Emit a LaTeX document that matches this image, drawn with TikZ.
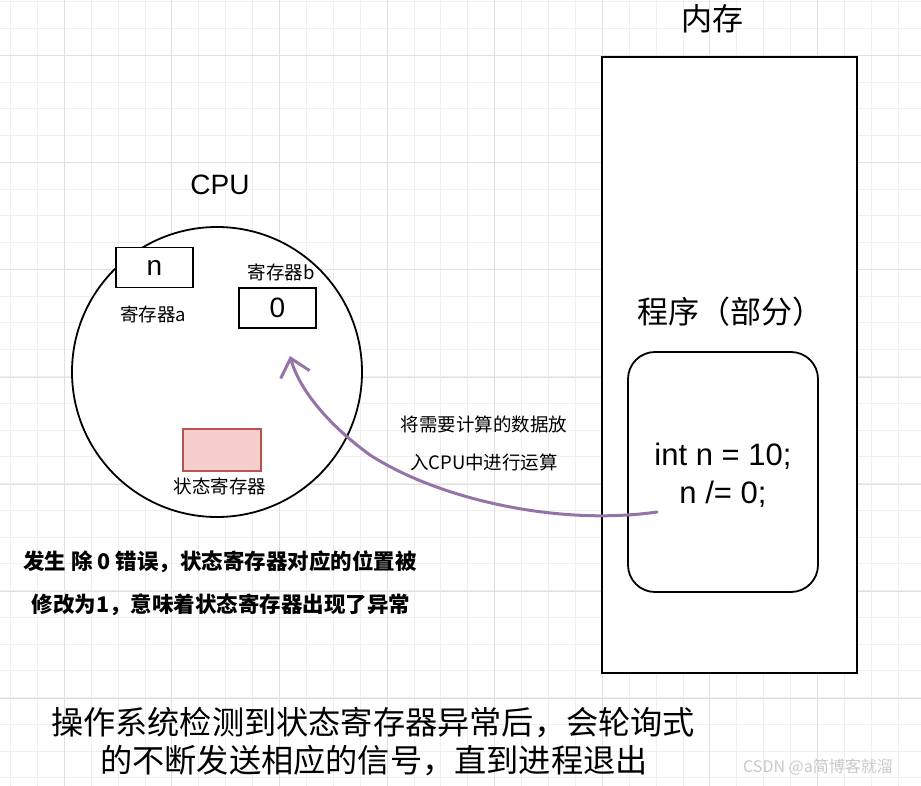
\documentclass[tikz,border=0pt]{standalone}
\usepackage{fontspec}
\setmainfont{Liberation Sans}
\newfontfamily\cjk{Noto Sans CJK SC}
\usetikzlibrary{arrows.meta}

\definecolor{gradefina}{HTML}{EFEFEF}
\definecolor{gradeforte}{HTML}{E0E0E0}
\definecolor{estadofundo}{HTML}{F8CECC}
\definecolor{estadoborda}{HTML}{B85450}
\definecolor{setaroxa}{HTML}{9673A6}
\definecolor{marcadagua}{HTML}{C8C8C8}

\tikzset{
  registrador/.style={draw, line width=1.8pt, fill=white, minimum width=77pt, minimum height=40pt, inner sep=0pt, font=\fontsize{28}{28}\selectfont},
  rotulo/.style={inner sep=0pt, font=\cjk\fontsize{18.5}{18.5}\selectfont},
  titulo/.style={inner sep=0pt, font=\cjk\fontsize{31}{31}\selectfont},
  codigo/.style={inner sep=0pt, anchor=base, font=\fontsize{31}{31}\selectfont},
  aviso/.style={inner sep=0pt, font=\cjk\bfseries\fontsize{21.5}{21.5}\selectfont},
  rodape/.style={inner sep=0pt, font=\cjk\fontsize{32.2}{32.2}\selectfont},
}

\begin{document}
\begin{tikzpicture}[x=1pt, y=-1pt] % um ponto = um pixel da figura

\useasboundingbox (0,0) rectangle (921,786);

%---------------------------------------------------
%Grade do fundo
%---------------------------------------------------
\foreach \i in {0,...,34}{
  \pgfmathsetmacro{\gx}{10.5+26.9*\i}
  \draw[gradefina, line width=1pt] (\gx,0) -- (\gx,786);
}
\foreach \j in {0,...,29}{
  \pgfmathsetmacro{\gy}{2+26.75*\j}
  \draw[gradefina, line width=1pt] (0,\gy) -- (921,\gy);
}
\foreach \gx in {64.3,171.9,...,921}
  \draw[gradeforte, line width=1pt] (\gx,0) -- (\gx,786);
\foreach \gy in {56,163,...,786}
  \draw[gradeforte, line width=1pt] (0,\gy) -- (921,\gy);

%---------------------------------------------------
%Memoria e programa
%---------------------------------------------------
\node[titulo] (memtitulo) at (712,19) {内存};
\draw[line width=1.8pt, fill=white] (602,57) rectangle (857,673);
\node[titulo] (progtitulo) at (730,312) {程序（部分）};
\draw[line width=1.8pt, rounded corners=27pt] (628,352) rectangle (818,592);
\node[codigo] (linha1) at (723,465) {int n = 10;};
\node[codigo] (linha2) at (723,503) {n /= 0;};

%---------------------------------------------------
%CPU e registradores
%---------------------------------------------------
\node[inner sep=0pt, anchor=base, font=\fontsize{28}{28}\selectfont] (cputitulo) at (220,195) {CPU};
\node[draw, circle, line width=1.8pt, fill=white, minimum size=290pt, inner sep=0pt] (cpu) at (217,372) {};
\node[registrador] (rega) at (154.5,267.5) {n};
\node[rotulo] (rotuloa) at (153,314) {寄存器a};
\node[rotulo] (rotulob) at (281,272) {寄存器b};
\node[registrador] (regb) at (277.5,308) {0};
\node[draw=estadoborda, fill=estadofundo, line width=1.8pt, minimum width=78pt, minimum height=42pt, inner sep=0pt] (estado) at (222,450) {};
\node[rotulo] (rotuloestado) at (220,486) {状态寄存器};

%---------------------------------------------------
%Seta da memoria para a CPU
%---------------------------------------------------
\coordinate (origem) at (657,512);
\coordinate (meio) at (370,455);
\coordinate (destino) at (290,356);
\draw[setaroxa, line width=3pt, line cap=round, -{Straight Barb[length=17pt, width=30pt]}]
  (origem) .. controls (560,526) and (440,500) .. (meio)
  .. controls (322,420) and (298,385) .. (destino);
\node[rotulo] (seta1) at (484,424) {将需要计算的数据放};
\node[rotulo] (seta2) at (484,462) {入CPU中进行运算};

%---------------------------------------------------
%Textos de explicacao
%---------------------------------------------------
\node[aviso] (aviso1) at (220,562) {发生 除 0 错误，状态寄存器对应的位置被};
\node[aviso] (aviso2) at (221,605) {修改为1，意味着状态寄存器出现了异常};
\node[rodape] (rodape1) at (373,723) {操作系统检测到状态寄存器异常后，会轮询式};
\node[rodape] (rodape2) at (374,761) {的不断发送相应的信号，直到进程退出};
\node[inner sep=0pt, text=marcadagua, font=\cjk\fontsize{16}{16}\selectfont] (marca) at (818,767) {CSDN @a简博客就溜};

\end{tikzpicture}
\end{document}
